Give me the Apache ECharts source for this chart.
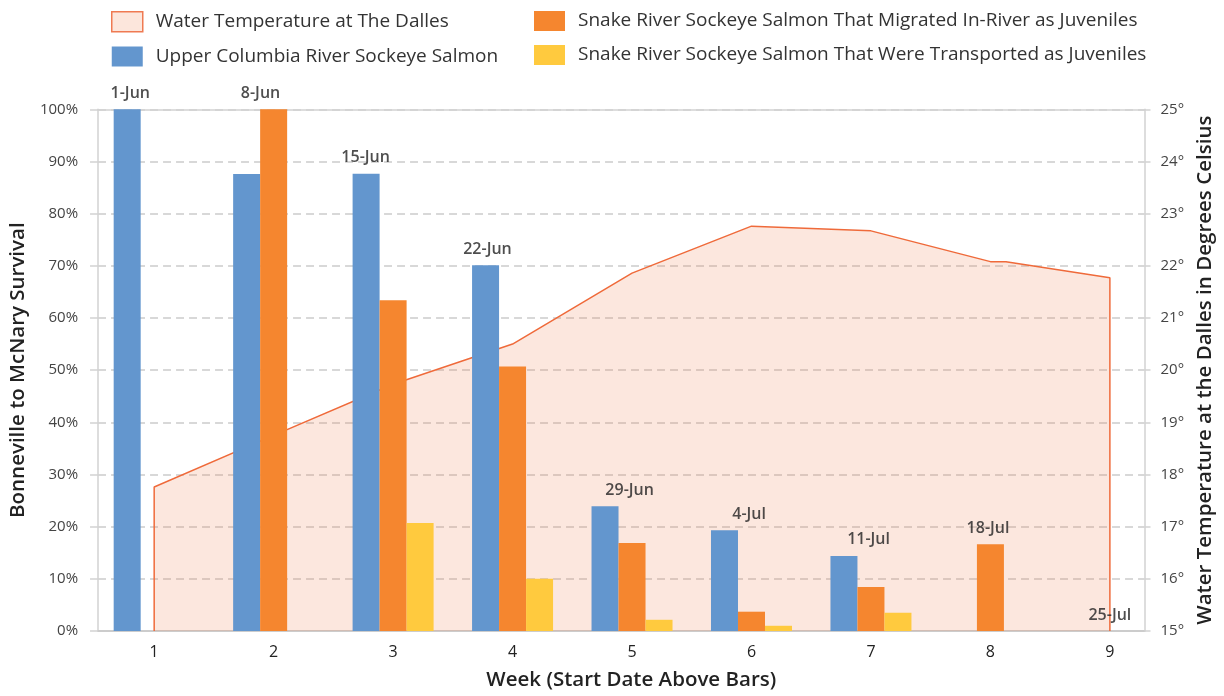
<!DOCTYPE html>
<html>
<head>
<meta charset="utf-8">
<script src="https://cdn.jsdelivr.net/npm/echarts@6/dist/echarts.min.js"></script>
<style>
  html, body { margin: 0; padding: 0; background: #fff; }
  #myChart { width: 1224px; height: 696px; }
</style>
</head>
<body>
<div id="myChart"></div>
<script>
// weeks on the x axis
const weeks = [1, 2, 3, 4, 5, 6, 7, 8, 9];
// survival %, null = no bar
const upperColumbia = [100, 87.6, 87.65, 70.1, 23.9, 19.3, 14.4, null, null];
const snakeInRiver = [null, 100, 63.4, 50.7, 16.85, 3.7, 8.45, 16.65, null];
const snakeTransported = [null, null, 20.7, 10.0, 2.15, 1.0, 3.5, null, null];
// water temperature (°C), closed down to the axis base at both ends
const tempWeeks = [1, 1, 2, 3, 4, 5, 6, 7, 8, 8.13, 9, 9];
const temps = [15, 17.76, 18.75, 19.73, 20.5, 21.86, 22.76, 22.67, 22.08, 22.08, 21.77, 15];
// start dates written above the bars
const startDates = ["1-Jun", "8-Jun", "15-Jun", "22-Jun", "29-Jun", "4-Jul", "11-Jul", "18-Jul", "25-Jul"];
const dateX = [0.8, 1.89, 2.77, 3.79, 4.98, 5.98, 6.98, 7.98, 9.0];
// tick labels
const leftTicks = [0, 10, 20, 30, 40, 50, 60, 70, 80, 90, 100];
const rightTicks = [15, 16, 17, 18, 19, 20, 21, 22, 23, 24, 25];

const FONT = "Open Sans";
const names = {
  temp: "Water Temperature at The Dalles",
  uc: "Upper Columbia River Sockeye Salmon",
  inRiver: "Snake River Sockeye Salmon That Migrated In-River as Juveniles",
  trans: "Snake River Sockeye Salmon That Were Transported as Juveniles",
};

function pairs(xs, ys) {
  let out = [];
  xs.forEach((x, i) => {
    if (ys[i] != null) out.push([x, ys[i]]);
  });
  return out;
}

let labelData = weeks.map((w, i) => {
  let top = Math.max(upperColumbia[i] || 0, snakeInRiver[i] || 0, snakeTransported[i] || 0);
  return { value: [dateX[i], top], name: startDates[i] };
});

const chart = echarts.init(document.getElementById("myChart"));

const xRange = { min: 0.53, max: 9.29 };
const legendText = { fontSize: 19, color: "#333", fontFamily: FONT, padding: [0, 0, 0, 8] };

chart.setOption({
  animation: false,
  backgroundColor: "#ffffff",
  textStyle: { fontFamily: FONT },
  grid: { left: 91, right: 67.5, top: 109.3, bottom: 62.7 },
  legend: [
    {
      orient: "vertical",
      left: 106,
      top: 6,
      itemWidth: 31,
      itemHeight: 20,
      itemGap: 14,
      textStyle: legendText,
      data: [
        { name: names.temp, icon: "rect", itemStyle: { color: "#fce6dc", borderColor: "#ef7a52", borderWidth: 1.5 } },
        { name: names.uc, icon: "rect" },
      ],
    },
    {
      orient: "vertical",
      left: 529,
      top: 6,
      itemWidth: 31,
      itemHeight: 20,
      itemGap: 14,
      textStyle: legendText,
      data: [
        { name: names.inRiver, icon: "rect" },
        { name: names.trans, icon: "rect" },
      ],
    },
  ],
  xAxis: [
    {
      type: "value",
      min: xRange.min,
      max: xRange.max,
      name: "Week (Start Date Above Bars)",
      nameLocation: "middle",
      nameGap: 39,
      nameTextStyle: { fontSize: 20.5, fontWeight: 600, color: "#222", fontFamily: FONT, padding: [0, 0, 0, 20] },
      axisLine: { show: true, lineStyle: { color: "#cccccc", width: 2 } },
      axisTick: { show: false },
      splitLine: { show: false },
      axisLabel: {
        customValues: weeks,
        margin: 13,
        fontSize: 16,
        color: "#222",
        fontFamily: FONT,
      },
    },
    {
      // solid line along the top of the plot
      type: "value",
      position: "top",
      min: xRange.min,
      max: xRange.max,
      axisLine: { show: true, lineStyle: { color: "#d2d2d2", width: 1.5 } },
      axisTick: { show: false },
      axisLabel: { show: false },
      splitLine: { show: false },
    },
  ],
  yAxis: [
    {
      type: "value",
      min: 0,
      max: 100,
      interval: 10,
      name: "Bonneville to McNary Survival",
      nameLocation: "middle",
      nameGap: 66,
      nameTextStyle: { fontSize: 20.5, fontWeight: 600, color: "#222", fontFamily: FONT },
      axisLine: { show: true, lineStyle: { color: "#d2d2d2", width: 1.5 } },
      axisTick: { show: true, length: 8, lineStyle: { color: "#d2d2d2", width: 1.5 } },
      axisLabel: { formatter: "{value}%", margin: 20, fontSize: 15, color: "#444", fontFamily: FONT },
      splitLine: { show: true, lineStyle: { color: "#cccccc", width: 1.5, type: [8, 5] } },
    },
    {
      type: "value",
      min: rightTicks[0],
      max: rightTicks[rightTicks.length - 1],
      interval: 1,
      name: "Water Temperature at the Dalles in Degrees Celsius",
      nameLocation: "middle",
      nameGap: 46,
      nameTextStyle: { fontSize: 20.5, fontWeight: 600, color: "#222", fontFamily: FONT },
      axisLine: { show: true, lineStyle: { color: "#d2d2d2", width: 1.5 } },
      axisTick: { show: true, length: 6, lineStyle: { color: "#d2d2d2", width: 1.5 } },
      axisLabel: { formatter: "{value}°", margin: 16, fontSize: 15, color: "#444", fontFamily: FONT },
      splitLine: { show: false },
    },
  ],
  series: [
    {
      name: names.temp,
      type: "line",
      yAxisIndex: 1,
      data: pairs(tempWeeks, temps),
      symbol: "none",
      lineStyle: { color: "#ef6a3a", width: 1.5 },
      itemStyle: { color: "#fce6dc", borderColor: "#ef7a52" },
      areaStyle: { color: "#f07848", opacity: 0.18, origin: "start" },
      z: 1,
    },
    {
      name: names.uc,
      type: "bar",
      barWidth: 27,
      barGap: "0%",
      itemStyle: { color: "#6396ce" },
      data: pairs(weeks, upperColumbia),
    },
    {
      name: names.inRiver,
      type: "bar",
      barWidth: 27,
      barGap: "0%",
      itemStyle: { color: "#f5862f" },
      data: pairs(weeks, snakeInRiver),
    },
    {
      name: names.trans,
      type: "bar",
      barWidth: 27,
      barGap: "0%",
      itemStyle: { color: "#ffca3e" },
      data: pairs(weeks, snakeTransported),
    },
    {
      // start dates over each week
      type: "scatter",
      symbolSize: 0,
      silent: true,
      z: 5,
      label: {
        show: true,
        position: "top",
        distance: 8,
        formatter: (p) => p.name,
        fontSize: 16,
        fontWeight: 600,
        color: "#222",
        fontFamily: FONT,
      },
      data: labelData,
    },
  ],
});
</script>
</body>
</html>
